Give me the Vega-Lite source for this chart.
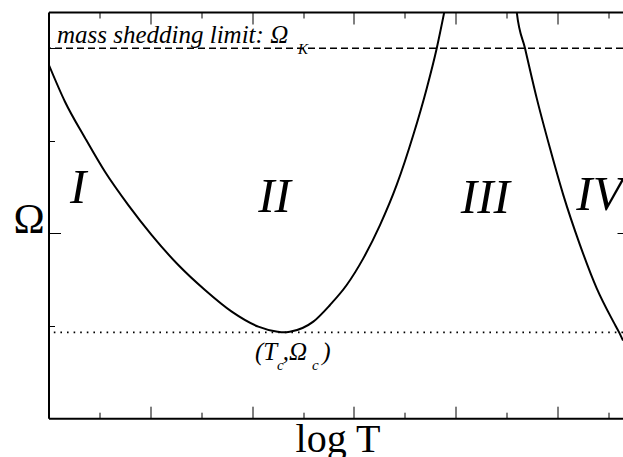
{
  "$schema": "https://vega.github.io/schema/vega-lite/v6.json",
  "width": 574.5,
  "height": 406.2,
  "autosize": {"type": "none"},
  "padding": {"left": 48.5, "top": 12, "right": 0, "bottom": 38.8},
  "background": "white",
  "config": {
    "view": {"stroke": null},
    "axis": {"grid": false, "labels": false, "domainColor": "black", "domainWidth": 2, "tickColor": "black", "tickWidth": 1, "titleColor": "black", "titleFont": "Liberation Serif", "titleFontWeight": "normal"}
  },
  "datasets": {
    "curves": [
      {"curve": "a", "x": 0, "y": 1.915},
      {"curve": "a", "x": 0.162, "y": 1.711},
      {"curve": "a", "x": 0.359, "y": 1.515},
      {"curve": "a", "x": 0.555, "y": 1.332},
      {"curve": "a", "x": 0.784, "y": 1.152},
      {"curve": "a", "x": 1.014, "y": 0.99},
      {"curve": "a", "x": 1.275, "y": 0.828},
      {"curve": "a", "x": 1.537, "y": 0.693},
      {"curve": "a", "x": 1.8, "y": 0.576},
      {"curve": "a", "x": 2.061, "y": 0.495},
      {"curve": "a", "x": 2.25, "y": 0.467},
      {"curve": "a", "x": 2.31, "y": 0.464},
      {"curve": "a", "x": 2.37, "y": 0.467},
      {"curve": "a", "x": 2.601, "y": 0.522},
      {"curve": "a", "x": 2.765, "y": 0.612},
      {"curve": "a", "x": 2.929, "y": 0.72},
      {"curve": "a", "x": 3.092, "y": 0.864},
      {"curve": "a", "x": 3.256, "y": 1.044},
      {"curve": "a", "x": 3.42, "y": 1.261},
      {"curve": "a", "x": 3.583, "y": 1.531},
      {"curve": "a", "x": 3.715, "y": 1.783},
      {"curve": "a", "x": 3.813, "y": 1.999},
      {"curve": "a", "x": 3.888, "y": 2.197},
      {"curve": "a", "x": 3.9, "y": 2.23},
      {"curve": "b", "x": 4.585, "y": 2.27},
      {"curve": "b", "x": 4.599, "y": 2.197},
      {"curve": "b", "x": 4.681, "y": 1.999},
      {"curve": "b", "x": 4.796, "y": 1.729},
      {"curve": "b", "x": 4.926, "y": 1.459},
      {"curve": "b", "x": 5.057, "y": 1.206},
      {"curve": "b", "x": 5.221, "y": 0.936},
      {"curve": "b", "x": 5.385, "y": 0.702},
      {"curve": "b", "x": 5.548, "y": 0.522},
      {"curve": "b", "x": 5.605, "y": 0.464},
      {"curve": "b", "x": 5.643, "y": 0.42}
    ],
    "regions": [
      {"label": "I", "x": 0.211, "y": 1.163},
      {"label": "II", "x": 2.06, "y": 1.115},
      {"label": "III", "x": 4.05, "y": 1.109},
      {"label": "IV", "x": 5.185, "y": 1.125}
    ],
    "notes": [
      {"label": "mass shedding limit: Ω", "x": 0.083, "y": 2.028},
      {"label": "(T", "x": 2.028, "y": 0.315},
      {"label": ",Ω", "x": 2.3, "y": 0.315},
      {"label": ")", "x": 2.69, "y": 0.315}
    ],
    "subs": [
      {"label": "K", "x": 2.451, "y": 1.97},
      {"label": "c", "x": 2.245, "y": 0.26},
      {"label": "c", "x": 2.588, "y": 0.26}
    ]
  },
  "resolve": {"axis": {"x": "independent", "y": "independent"}},
  "layer": [
    {
      "data": {"name": "curves"},
      "mark": {"type": "line", "color": "black", "strokeWidth": 2, "interpolate": "monotone", "clip": true},
      "encoding": {
        "x": {"field": "x", "type": "quantitative", "scale": {"domain": [0, 5.643], "nice": false, "zero": false},
          "axis": {"orient": "bottom", "values": [0.5, 1, 1.5, 2, 2.5, 3, 3.5, 4, 4.5, 5, 5.5],
            "tickSize": {"condition": {"test": "datum.value % 1 === 0", "value": -12}, "value": -6},
            "title": "log T", "titleFontSize": 40, "titleX": 289, "titleY": 33, "titleAlign": "center", "titleBaseline": "alphabetic"}},
        "y": {"field": "y", "type": "quantitative", "scale": {"domain": [0, 2.196], "nice": false, "zero": false},
          "axis": {"orient": "left", "values": [0.5, 1, 1.5, 2],
            "tickSize": {"condition": {"test": "datum.value % 1 === 0", "value": -12}, "value": -6},
            "title": "Ω", "titleAngle": 0, "titleFontSize": 42, "titleX": -20, "titleY": 220, "titleAlign": "center", "titleBaseline": "alphabetic"}},
        "detail": {"field": "curve"}
      }
    },
    {
      "data": {"values": [{"y": 2.0}]},
      "mark": {"type": "rule", "color": "black", "strokeWidth": 1.3, "strokeDash": [7, 4]},
      "encoding": {
        "y": {"field": "y", "type": "quantitative", "scale": {"domain": [0, 2.196], "nice": false, "zero": false}, "axis": null}
      }
    },
    {
      "data": {"values": [{"y": 0.464}]},
      "mark": {"type": "rule", "color": "black", "strokeWidth": 1.6, "strokeDash": [1.6, 5]},
      "encoding": {
        "y": {"field": "y", "type": "quantitative", "scale": {"domain": [0, 2.196], "nice": false, "zero": false}, "axis": null}
      }
    },
    {
      "data": {"name": "regions"},
      "mark": {"type": "text", "font": "Liberation Serif", "fontStyle": "italic", "fontSize": 49, "align": "left", "baseline": "alphabetic", "color": "black", "clip": true},
      "encoding": {
        "x": {"field": "x", "type": "quantitative", "scale": {"domain": [0, 5.643], "nice": false, "zero": false},
          "axis": {"orient": "top", "values": [0.5, 1, 1.5, 2, 2.5, 3, 3.5, 4, 4.5, 5, 5.5],
            "tickSize": {"condition": {"test": "datum.value % 1 === 0", "value": -12}, "value": -6},
            "title": null}},
        "y": {"field": "y", "type": "quantitative", "scale": {"domain": [0, 2.196], "nice": false, "zero": false},
          "axis": {"orient": "right", "values": [1, 2], "domain": false, "tickSize": -6, "title": null}},
        "text": {"field": "label"}
      }
    },
    {
      "data": {"name": "notes"},
      "mark": {"type": "text", "font": "Liberation Serif", "fontStyle": "italic", "fontSize": 25, "align": "left", "baseline": "alphabetic", "color": "black"},
      "encoding": {
        "x": {"field": "x", "type": "quantitative", "scale": {"domain": [0, 5.643], "nice": false, "zero": false}, "axis": null},
        "y": {"field": "y", "type": "quantitative", "scale": {"domain": [0, 2.196], "nice": false, "zero": false}, "axis": null},
        "text": {"field": "label"}
      }
    },
    {
      "data": {"name": "subs"},
      "mark": {"type": "text", "font": "Liberation Serif", "fontStyle": "italic", "fontSize": 15, "align": "left", "baseline": "alphabetic", "color": "black"},
      "encoding": {
        "x": {"field": "x", "type": "quantitative", "scale": {"domain": [0, 5.643], "nice": false, "zero": false}, "axis": null},
        "y": {"field": "y", "type": "quantitative", "scale": {"domain": [0, 2.196], "nice": false, "zero": false}, "axis": null},
        "text": {"field": "label"}
      }
    }
  ]
}
